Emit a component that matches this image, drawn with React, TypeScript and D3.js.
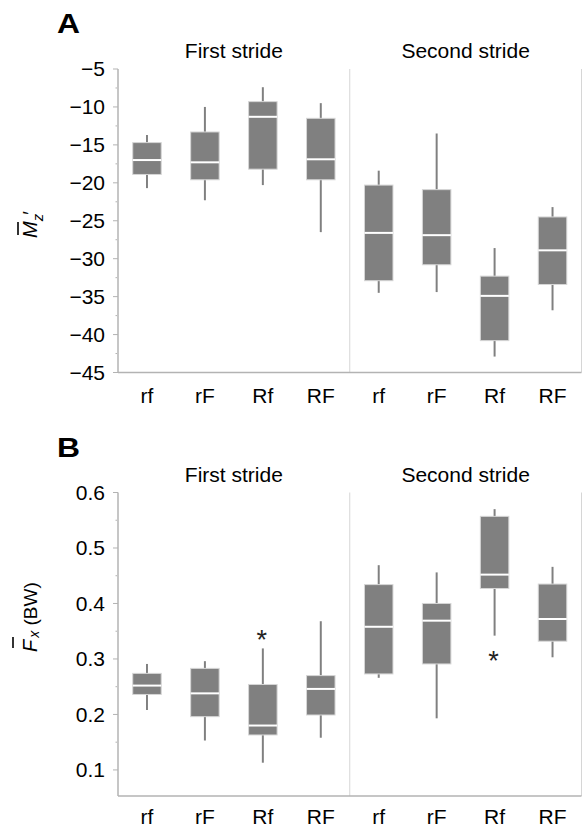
import React from "react";
import * as d3 from "d3";

// group / category labels
const strides = ["First stride", "Second stride"];
const categories = ["rf", "rF", "Rf", "RF"];

// panel A: mean normalised yaw moment, per category (first stride then second stride)
const aHigh = [-13.7, -10.0, -7.4, -9.5, -18.4, -13.5, -28.6, -23.2];
const aQ3 = [-14.7, -13.3, -9.3, -11.5, -20.3, -20.9, -32.3, -24.5];
const aMedian = [-17.0, -17.3, -11.3, -16.9, -26.6, -26.9, -34.9, -28.9];
const aQ1 = [-18.9, -19.6, -18.2, -19.6, -32.9, -30.8, -40.8, -33.4];
const aLow = [-20.7, -22.3, -20.3, -26.5, -34.5, -34.4, -42.9, -36.8];
const aTicks = [-5, -10, -15, -20, -25, -30, -35, -40, -45];

// panel B: mean fore-aft force (body weights)
const bHigh = [0.291, 0.296, 0.319, 0.368, 0.469, 0.456, 0.57, 0.466];
const bQ3 = [0.274, 0.283, 0.254, 0.27, 0.434, 0.4, 0.557, 0.435];
const bMedian = [0.252, 0.238, 0.18, 0.246, 0.358, 0.369, 0.452, 0.372];
const bQ1 = [0.236, 0.196, 0.163, 0.199, 0.273, 0.291, 0.427, 0.332];
const bLow = [0.208, 0.153, 0.113, 0.158, 0.266, 0.193, 0.342, 0.303];
const bTicks = [0.6, 0.5, 0.4, 0.3, 0.2, 0.1];
// significance stars: box index + value where the star sits
const bStarIdx = [2, 6];
const bStarVal = [0.345, 0.307];

const FONT = "'Liberation Sans', Arial, Helvetica, sans-serif";
const BOX = "#808080";
const AXIS = "#b3b3b3";
const LIGHT = "#d6d6d6";

const left = 118;
const right = 581.5;
const plotH = 303.5;

const slots = d3.range(8);
const x = d3.scaleBand<number>().domain(slots).range([left, right]).padding(0);
const boxW = 28.5;

type PanelProps = {
  top: number;
  letter: string;
  domain: [number, number];
  ticks: number[];
  minor: number[];
  fmt: (v: number) => string;
  high: number[];
  q3: number[];
  med: number[];
  q1: number[];
  low: number[];
  labelGap: number;
  starIdx?: number[];
  starVal?: number[];
  ylabel: React.ReactNode;
};

function Panel(p: PanelProps) {
  const bottom = p.top + plotH;
  const y = d3.scaleLinear().domain(p.domain).range([bottom, p.top]);
  const mid = left + 4 * x.bandwidth();
  return (
    <g>
      <text x={57} y={p.top - 36} fontSize={27} fontWeight="bold" textLength={23} lengthAdjust="spacingAndGlyphs">
        {p.letter}
      </text>
      {strides.map((s, i) => (
        <text key={s} x={(x(i * 4)! + x(i * 4 + 3)! + x.bandwidth()) / 2} y={p.top - 11} fontSize={21} textAnchor="middle">
          {s}
        </text>
      ))}
      {/* frame lines */}
      <line x1={mid} x2={mid} y1={p.top} y2={bottom} stroke={LIGHT} strokeWidth={1} />
      <line x1={right} x2={right} y1={p.top} y2={bottom} stroke={LIGHT} strokeWidth={1} />
      <line x1={left} x2={left} y1={p.top} y2={bottom} stroke={AXIS} strokeWidth={1.5} />
      <line x1={left} x2={right} y1={bottom} y2={bottom} stroke={AXIS} strokeWidth={1.5} />
      {p.ticks.map((t) => (
        <g key={t}>
          <line x1={left - 5} x2={left} y1={y(t)} y2={y(t)} stroke={AXIS} strokeWidth={1} />
          <text x={left - 13} y={y(t)} dy="0.35em" fontSize={21} textAnchor="end">
            {p.fmt(t)}
          </text>
        </g>
      ))}
      {p.minor.map((t) => (
        <line key={t} x1={left - 2.5} x2={left - 1} y1={y(t)} y2={y(t)} stroke={AXIS} strokeWidth={1} />
      ))}
      {/* boxes */}
      {slots.map((i) => {
        const cx = x(i)! + x.bandwidth() / 2;
        return (
          <g key={i}>
            <line x1={cx} x2={cx} y1={y(p.high[i])} y2={y(p.low[i])} stroke={BOX} strokeWidth={2} />
            <rect
              x={cx - boxW / 2}
              y={y(p.q3[i])}
              width={boxW}
              height={y(p.q1[i]) - y(p.q3[i])}
              fill={BOX}
              stroke={LIGHT}
              strokeWidth={1}
            />
            <line x1={cx - boxW / 2} x2={cx + boxW / 2} y1={y(p.med[i])} y2={y(p.med[i])} stroke="#fff" strokeWidth={2} />
          </g>
        );
      })}
      {(p.starIdx || []).map((idx, k) => (
        <text key={idx} x={x(idx)! + x.bandwidth() / 2 - 1} y={y(p.starVal![k]) + 15} fontSize={27} textAnchor="middle" fill="#222">
          *
        </text>
      ))}
      {/* category labels */}
      {slots.map((i) => (
        <text key={i} x={x(i)! + x.bandwidth() / 2} y={bottom + p.labelGap} fontSize={21} textAnchor="middle">
          {categories[i % 4]}
        </text>
      ))}
      {p.ylabel}
    </g>
  );
}

export default function App() {
  const fmtA = d3.format("d");
  const fmtB = d3.format(".1f");
  const aMinor = d3.range(-7.5, -45, -5);
  const bMinor = d3.range(0.15, 0.6, 0.1);

  const labelA = (
    <g transform="translate(37,238) rotate(-90)">
      <line x1={3} x2={16} y1={-19} y2={-19} stroke="#000" strokeWidth={1.6} />
      <text fontSize={20}>
        <tspan fontStyle="italic">M</tspan>
        <tspan fontStyle="italic" fontSize={15} dy={6}>z</tspan>
        <tspan dy={-6} dx={-1}>′</tspan>
      </text>
    </g>
  );
  const labelB = (
    <g transform="translate(37,652) rotate(-90)">
      <line x1={4} x2={15} y1={-24} y2={-24} stroke="#000" strokeWidth={1.6} />
      <text fontSize={20}>
        <tspan fontStyle="italic">F</tspan>
        <tspan fontStyle="italic" fontSize={14} dy={2} dx={2}>x</tspan>
        <tspan dy={-2} fontSize={19}> (BW)</tspan>
      </text>
    </g>
  );

  return (
    <svg
      width={582}
      height={827}
      style={{ position: "absolute", left: 0, top: 0, background: "#fff" }}
      fontFamily={FONT}
    >
      <Panel
        top={69}
        letter="A"
        domain={[-45, -5]}
        ticks={aTicks}
        minor={aMinor}
        fmt={fmtA}
        high={aHigh}
        q3={aQ3}
        med={aMedian}
        q1={aQ1}
        low={aLow}
        labelGap={30}
        ylabel={labelA}
      />
      <Panel
        top={492.5}
        letter="B"
        domain={[0.053, 0.6]}
        ticks={bTicks}
        minor={bMinor}
        fmt={fmtB}
        high={bHigh}
        q3={bQ3}
        med={bMedian}
        q1={bQ1}
        low={bLow}
        labelGap={28}
        starIdx={bStarIdx}
        starVal={bStarVal}
        ylabel={labelB}
      />
    </svg>
  );
}
